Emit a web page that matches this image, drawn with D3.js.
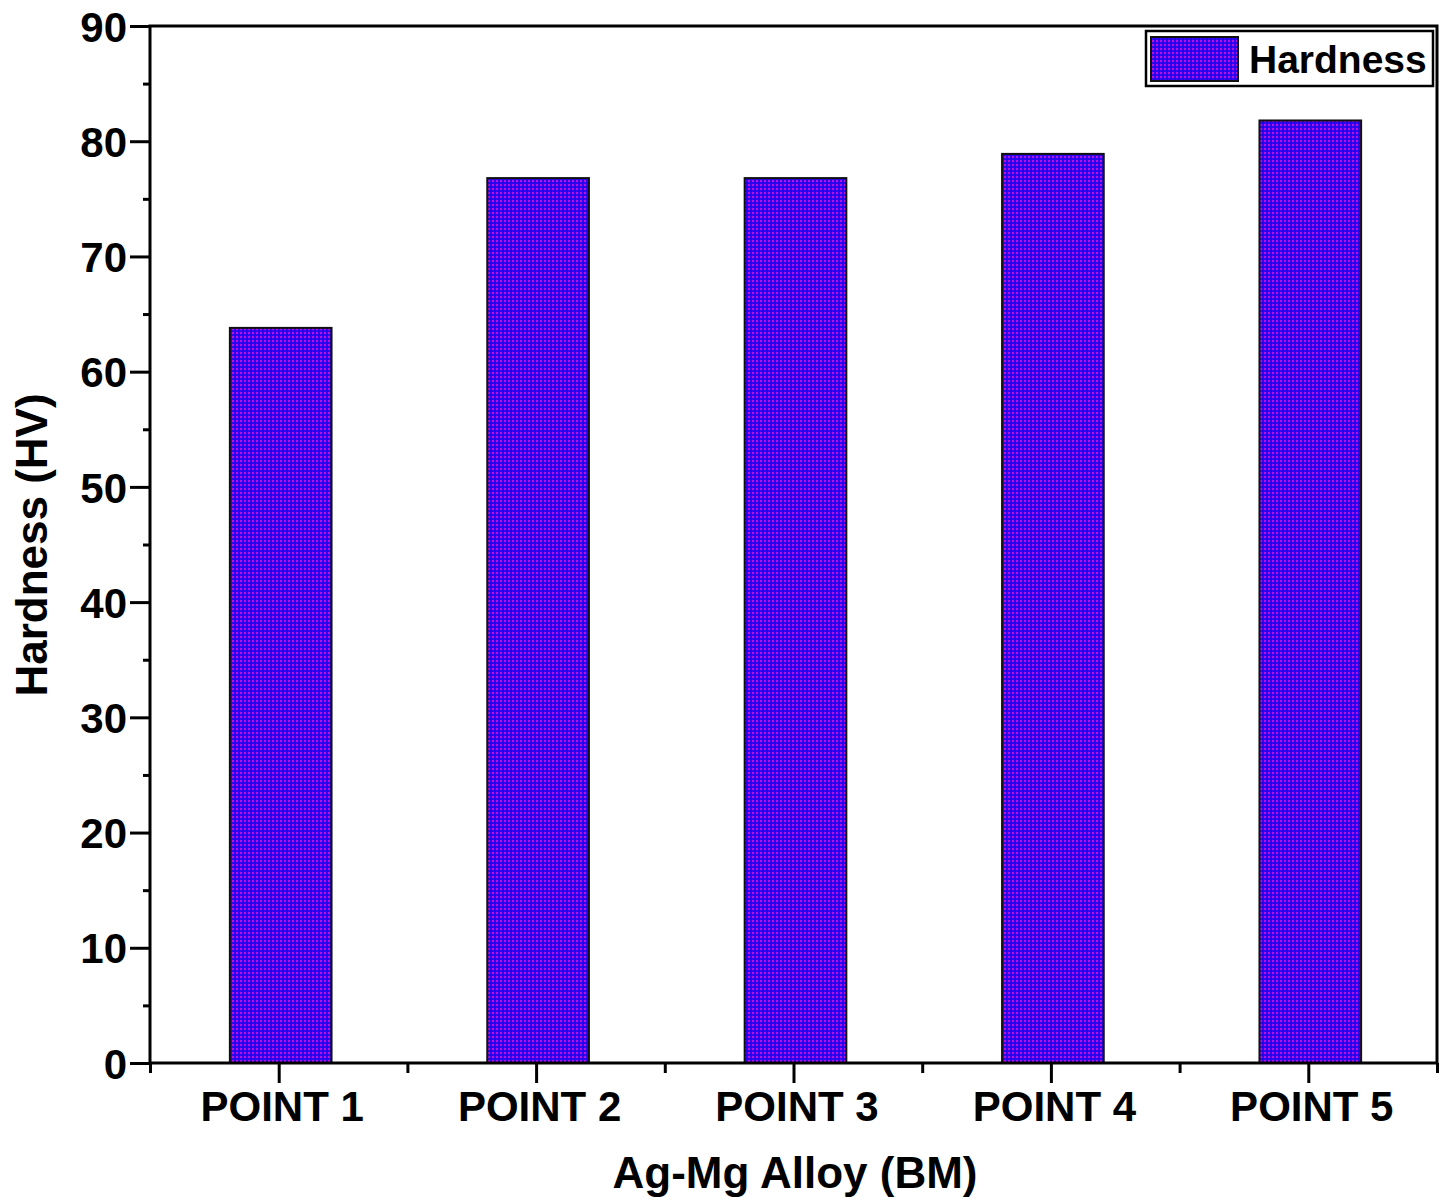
<!DOCTYPE html>
<html><head><meta charset="utf-8">
<script src="https://cdn.jsdelivr.net/npm/d3@7"></script>
<style>
html,body{margin:0;padding:0;background:#fff;}
text{font-family:"Liberation Sans",Arial,sans-serif;font-weight:bold;fill:#000;}
</style></head>
<body>
<svg id="chart" width="1448" height="1204"></svg>
<script>
const categories = ["POINT 1","POINT 2","POINT 3","POINT 4","POINT 5"];
const hardness = [63.8, 76.8, 76.8, 78.9, 81.8];
const yTicks = [0,10,20,30,40,50,60,70,80,90];
const seriesName = "Hardness";
const xTitle = "Ag-Mg Alloy (BM)";
const yTitle = "Hardness (HV)";

const svg = d3.select("#chart");
const pL = 150, pR = 1437, pT = 26, pB = 1063;

const defs = svg.append("defs");
const pat = defs.append("pattern").attr("id","hatch").attr("patternUnits","userSpaceOnUse")
  .attr("width",4).attr("height",4);
pat.append("rect").attr("width",4).attr("height",4).attr("fill","#3008f4");
pat.append("rect").attr("x",0).attr("y",0).attr("width",2).attr("height",2).attr("fill","#b812d8");
pat.append("rect").attr("x",2).attr("y",2).attr("width",2).attr("height",2).attr("fill","#2800e8");

const x = d3.scaleLinear().domain([0.5, 5.5]).range([pL, pR]);
const y = d3.scaleLinear().domain([0, 90]).range([pB, pT]);
const bw = (x(2) - x(1)) * 0.395;

// bars
svg.append("g").selectAll("rect").data(hardness).join("rect")
  .attr("x",(d,i)=>x(i+1)-bw/2+2).attr("y",d=>y(d))
  .attr("width",bw).attr("height",d=>y(0)-y(d))
  .attr("fill","url(#hatch)").attr("stroke","#111").attr("stroke-width",2);

// y axis
const yAxis = d3.axisLeft(y).tickValues(yTicks).tickSize(20).tickPadding(3).tickFormat(d3.format("d"));
const gy = svg.append("g").attr("transform",`translate(${pL},0)`).call(yAxis);
gy.select(".domain").remove();
gy.selectAll(".tick line").attr("stroke","#000").attr("stroke-width",3);
gy.selectAll(".tick text").style("font-size","42px").attr("dy","0.36em");
const yMinor = d3.axisLeft(y).tickValues(d3.range(5,90,10)).tickSize(7).tickFormat("");
const gym = svg.append("g").attr("transform",`translate(${pL},0)`).call(yMinor);
gym.select(".domain").remove();
gym.selectAll(".tick line").attr("stroke","#000").attr("stroke-width",3);

// x axis
const xAxis = d3.axisBottom(x).tickValues(categories.map((c,i)=>i+1)).tickSize(20).tickPadding(6)
  .tickFormat((d)=>categories[d-1]);
const gx = svg.append("g").attr("transform",`translate(0,${pB})`).call(xAxis);
gx.select(".domain").remove();
gx.selectAll(".tick line").attr("stroke","#000").attr("stroke-width",3);
gx.selectAll(".tick text").style("font-size","42px").attr("dy","0.76em").attr("dx","3");
const xMinor = d3.axisBottom(x).tickValues(d3.range(0.5,6,1)).tickSize(10).tickFormat("");
const gxm = svg.append("g").attr("transform",`translate(0,${pB})`).call(xMinor);
gxm.select(".domain").remove();
gxm.selectAll(".tick line").attr("stroke","#000").attr("stroke-width",3);

// frame
svg.append("rect").attr("x",pL).attr("y",pT).attr("width",pR-pL).attr("height",pB-pT)
  .attr("fill","none").attr("stroke","#000").attr("stroke-width",3);

// titles
svg.append("text").attr("x",795).attr("y",1188).attr("text-anchor","middle")
  .style("font-size","44px").text(xTitle);
svg.append("text").attr("transform",`translate(47,545) rotate(-90)`)
  .attr("text-anchor","middle").style("font-size","44px").text(yTitle);

// legend
const lg = svg.append("g");
lg.append("rect").attr("x",1146).attr("y",31).attr("width",287).attr("height",55)
  .attr("fill","#fff").attr("stroke","#000").attr("stroke-width",2.5);
lg.append("rect").attr("x",1151).attr("y",37).attr("width",87).attr("height",44)
  .attr("fill","url(#hatch)").attr("stroke","#111").attr("stroke-width",2);
lg.append("text").attr("x",1249).attr("y",73).style("font-size","39px").text(seriesName);
</script>
</body></html>
